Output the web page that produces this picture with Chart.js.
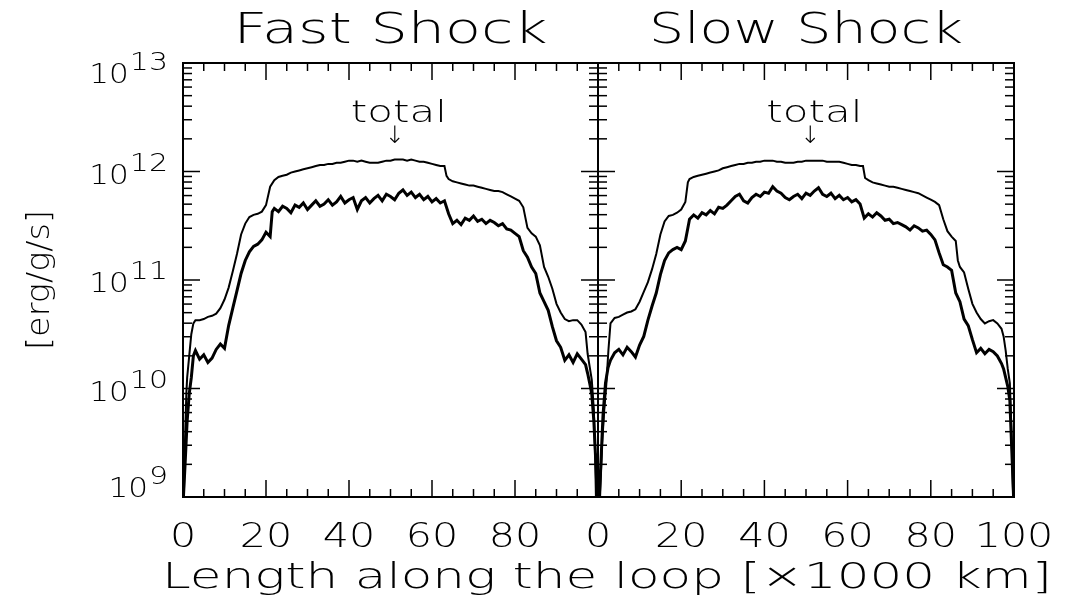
<!DOCTYPE html>
<html>
<head>
<meta charset="utf-8">
<script src="https://cdn.jsdelivr.net/npm/chart.js@4.4.1/dist/chart.umd.min.js"></script>
<style>
  body { margin: 0; background: #fff; }
  #wrap { position: relative; width: 1075px; height: 598px; }
  canvas { position: absolute; left: 0; top: 0; }
</style>
</head>
<body>
<div id="wrap">
  <canvas id="fast" width="1075" height="598"></canvas>
  <canvas id="slow" width="1075" height="598"></canvas>
</div>
<script>
// ── data (y values are log10 of erg/g/s) ──────────────────────────────────────
const X_TICKS = [0, 20, 40, 60, 80, 100];
const X_MINOR = [5, 10, 15, 25, 30, 35, 45, 50, 55, 65, 70, 75, 85, 90, 95];
const Y_DECADES = [9, 10, 11, 12, 13];
const Y_MINOR = [2, 3, 4, 5, 6, 7, 8, 9];
const FAST_XLABELS = [0, 20, 40, 60, 80];
const SLOW_XLABELS = [0, 20, 40, 60, 80, 100];

const FAST_TOTAL_X = [0.2, 0.5, 0.8, 1, 1.5, 2, 2.5,
  3, 4, 5, 6, 7, 8, 9, 10, 11, 12, 13, 14, 15, 16, 17, 18, 19, 20, 21, 22, 23, 24, 25, 26, 27, 28, 29, 30,
  31, 32, 33, 34, 35, 36, 37, 38, 39, 40, 41, 42, 43, 44, 45, 46, 47, 48, 49, 50, 51, 52, 53, 54, 55, 56,
  57, 58, 59, 60, 61, 62, 63, 63.5,
  64, 65, 66, 67, 68, 69, 70, 71, 72, 73, 74, 75, 76, 77, 78, 79, 80, 81, 82, 83, 84, 85, 86, 87, 88, 89,
  90, 91, 92, 93, 94, 95, 96, 97,
  97.5, 98, 98.5, 99, 99.3, 99.5];
const FAST_TOTAL = [9.0, 9.55, 9.95, 10.10, 10.30, 10.50, 10.60,
  10.63, 10.63, 10.64, 10.66, 10.67, 10.69, 10.74, 10.82, 10.93, 11.08, 11.24, 11.42, 11.52, 11.58, 11.60,
  11.61, 11.63, 11.69, 11.86, 11.92, 11.95, 11.96, 11.97, 11.99, 12.00, 12.01, 12.02, 12.03,
  12.04, 12.05, 12.06, 12.06, 12.07, 12.07, 12.08, 12.08, 12.09, 12.10, 12.10, 12.09, 12.10, 12.09, 12.08,
  12.08, 12.08, 12.09, 12.10, 12.10, 12.11, 12.11, 12.11, 12.10, 12.11, 12.10,
  12.09, 12.09, 12.08, 12.07, 12.06, 12.05, 12.05, 11.96,
  11.93, 11.91, 11.90, 11.89, 11.88, 11.87, 11.87, 11.86, 11.85, 11.84, 11.83, 11.82, 11.82, 11.81, 11.79,
  11.77, 11.75, 11.73, 11.67, 11.48, 11.43, 11.40, 11.32, 11.12, 11.03, 10.92,
  10.78, 10.70, 10.64, 10.62, 10.63, 10.63, 10.59, 10.52,
  10.32, 10.20, 10.08, 9.8, 9.4, 9.0];

const FAST_OTHER_X = [0.1, 0.5, 1, 1.5, 2, 2.5,
  3, 4, 5, 6, 7, 8, 9, 10, 11, 12, 13, 14, 15, 16, 17, 18, 19, 20, 21, 21.5,
  22, 23, 24, 25, 26, 27, 28, 29, 30, 31, 32, 33, 34, 35, 36, 37, 38, 39, 40, 41, 42, 43, 44, 45, 46, 47,
  48, 49, 50, 51, 52, 53, 54, 55, 56, 57, 58, 59, 60, 61, 62, 63, 64, 65, 66, 67, 68, 69, 70, 71, 72, 73,
  74, 75, 76, 77, 78, 79, 80, 81, 82, 83, 84, 85, 86, 87, 88, 89, 90, 91, 92, 93, 94, 95, 96, 97,
  97.5, 98, 98.5, 99, 99.5, 99.8];
const FAST_OTHER = [9.0, 9.3, 9.7, 9.95, 10.1, 10.3,
  10.35, 10.27, 10.31, 10.24, 10.28, 10.36, 10.41, 10.37, 10.58, 10.74, 10.90, 11.06, 11.18, 11.26, 11.31,
  11.33, 11.37, 11.44, 11.40, 11.63,
  11.66, 11.63, 11.68, 11.66, 11.62, 11.69, 11.67, 11.71, 11.65, 11.69,
  11.73, 11.68, 11.70, 11.74, 11.69, 11.72, 11.77, 11.71, 11.74, 11.76,
  11.65, 11.73, 11.76, 11.71, 11.75, 11.78, 11.73, 11.79, 11.77, 11.74,
  11.80, 11.83, 11.78, 11.81, 11.76, 11.79, 11.74, 11.77, 11.72, 11.75,
  11.71, 11.73, 11.61, 11.52, 11.55, 11.51, 11.57, 11.55, 11.59, 11.54,
  11.56, 11.52, 11.55, 11.53, 11.50, 11.52, 11.47, 11.46, 11.43, 11.40,
  11.27, 11.21, 11.12, 11.06, 10.88, 10.80, 10.72, 10.57, 10.44, 10.38,
  10.26, 10.31, 10.24, 10.32, 10.27, 10.22,
  10.14, 10.05, 9.95, 9.7, 9.3, 9.0];

const SLOW_TOTAL_X = [0.5, 1, 1.5, 2, 2.5,
  3, 4, 5, 6, 7, 8, 9, 10, 11, 12, 13, 14, 15, 16, 17, 18, 19, 20, 21, 21.6,
  22, 23, 24, 25, 26, 27, 28, 29, 30, 31, 32, 33, 34, 35, 36, 37, 38, 39, 40, 41, 42, 43, 44, 45, 46, 47,
  48, 49, 50, 51, 52, 53, 54, 55, 56, 57, 58, 59, 60, 61, 62, 63, 63.7, 64.2,
  65, 66, 67, 68, 69, 70, 71, 72, 73, 74, 75, 76, 77, 78, 79, 80, 81, 82, 83, 84, 85, 86, 86.5,
  87, 88, 89, 90, 91, 92, 93, 94, 95, 96, 97,
  97.5, 98, 98.5, 99, 99.4, 99.8];
const SLOW_TOTAL = [9.0, 9.5, 9.8, 10.04, 10.35,
  10.60, 10.65, 10.66, 10.68, 10.70, 10.71, 10.73, 10.80, 10.89, 10.98, 11.10, 11.24, 11.42, 11.54, 11.59,
  11.60, 11.62, 11.65, 11.72, 11.90,
  11.93, 11.95, 11.96, 11.97, 11.98, 11.99, 12.00, 12.01, 12.03, 12.04, 12.05, 12.06, 12.07, 12.07, 12.08,
  12.08, 12.09, 12.09, 12.10, 12.10, 12.10, 12.09, 12.09, 12.08, 12.08, 12.08,
  12.09, 12.09, 12.10, 12.10, 12.10, 12.10, 12.10, 12.09, 12.09, 12.09, 12.09, 12.08, 12.07, 12.06, 12.06,
  12.05, 12.05, 11.94,
  11.92, 11.90, 11.89, 11.88, 11.87, 11.86, 11.86, 11.85, 11.84, 11.83, 11.82, 11.81, 11.80, 11.78, 11.76,
  11.74, 11.72, 11.69, 11.56, 11.45, 11.40, 11.36, 11.18,
  11.12, 11.07, 10.92, 10.78, 10.70, 10.64, 10.60, 10.62, 10.63, 10.60, 10.55,
  10.48, 10.35, 10.18, 10.05, 9.6, 9.0];

const SLOW_OTHER_X = [0.3, 0.8, 1.2, 1.8, 2.4,
  3, 4, 5, 6, 7, 8, 9, 10, 11, 12, 13, 14, 15, 16, 17, 18, 19, 20, 21, 21.6,
  22, 23, 24, 25, 26, 27, 28, 29, 30, 31, 32, 33, 34, 35, 36, 37, 38, 39, 40, 41, 42, 43, 44, 45, 46, 47,
  48, 49, 50, 51, 52, 53, 54, 55, 56, 57, 58, 59, 60, 61, 62, 63, 64, 65, 66, 67, 68, 69, 70, 71, 72, 73,
  74, 75, 76, 77, 78, 79, 80, 81, 82, 83, 84, 85, 86, 87, 88, 89, 90, 91, 92, 93, 94, 95, 96, 97,
  97.5, 98, 98.5, 99, 99.5, 99.9];
const SLOW_OTHER = [9.0, 9.4, 9.75, 10.05, 10.19,
  10.26, 10.33, 10.36, 10.31, 10.38, 10.34, 10.29, 10.40, 10.48, 10.63, 10.76, 10.88, 11.05, 11.18, 11.25,
  11.28, 11.30, 11.28, 11.36, 11.48,
  11.56, 11.60, 11.57, 11.62, 11.60, 11.64, 11.61, 11.67, 11.66, 11.69,
  11.73, 11.77, 11.79, 11.73, 11.71, 11.76, 11.79, 11.77, 11.81, 11.80,
  11.86, 11.82, 11.80, 11.76, 11.74, 11.77, 11.79, 11.75, 11.80, 11.78,
  11.82, 11.85, 11.79, 11.77, 11.80, 11.75, 11.78, 11.74, 11.76, 11.72,
  11.74, 11.70, 11.57, 11.61, 11.58, 11.62, 11.59, 11.55, 11.56, 11.52,
  11.53, 11.51, 11.49, 11.46, 11.50, 11.48, 11.45, 11.46, 11.42, 11.37,
  11.25, 11.14, 11.12, 11.09, 10.88, 10.80, 10.64, 10.58, 10.45, 10.33,
  10.37, 10.32, 10.36, 10.34, 10.30, 10.23,
  10.18, 10.10, 10.02, 9.89, 9.4, 9.0];

// ── helpers ───────────────────────────────────────────────────────────────────
const FONT = "200 %spx 'DejaVu Sans', 'Noto Sans', sans-serif";
const font = (size) => FONT.replace("%s", size);

const toPoints = (xs, logs) => xs.map((x, i) => ({ x, y: Math.pow(10, logs[i]) }));

/** Draw text horizontally stretched (fixed factor, or to fit a target width). */
function drawText(ctx, s, x, y, size, opts = {}) {
  ctx.save();
  ctx.font = font(size);
  const w = ctx.measureText(s).width;
  const sx = opts.width ? opts.width / w : (opts.stretch || 1);
  ctx.translate(x, y);
  if (opts.rotate) ctx.rotate(opts.rotate);
  ctx.scale(sx, 1);
  ctx.textAlign = opts.align || "center";
  ctx.textBaseline = "alphabetic";
  ctx.fillText(s, 0, 0);
  ctx.restore();
  return w * sx;
}

// IDL style frame: inward ticks on all four sides, labels drawn by hand
const idlAxes = {
  id: "idlAxes",
  afterDraw(chart, args, o) {
    const { ctx, chartArea: a, scales: { x, y } } = chart;
    ctx.save();
    ctx.strokeStyle = "#000";
    ctx.fillStyle = "#000";
    const seg = (x1, y1, x2, y2) => { ctx.beginPath(); ctx.moveTo(x1, y1); ctx.lineTo(x2, y2); ctx.stroke(); };

    ctx.lineWidth = 1.5;
    X_MINOR.forEach((v) => {
      const p = x.getPixelForValue(v);
      seg(p, a.bottom, p, a.bottom - 8);
      seg(p, a.top, p, a.top + 8);
    });
    X_TICKS.forEach((v) => {
      const p = x.getPixelForValue(v);
      seg(p, a.bottom, p, a.bottom - 17);
      seg(p, a.top, p, a.top + 17);
    });
    Y_DECADES.forEach((e, i) => {
      const p = y.getPixelForValue(Math.pow(10, e));
      seg(a.left, p, a.left + 17, p);
      seg(a.right, p, a.right - 17, p);
      if (i === Y_DECADES.length - 1) return;
      Y_MINOR.forEach((m) => {
        const q = y.getPixelForValue(m * Math.pow(10, e));
        seg(a.left, q, a.left + 9, q);
        seg(a.right, q, a.right - 9, q);
      });
    });
    ctx.lineWidth = 2;
    ctx.strokeRect(a.left, a.top, a.right - a.left, a.bottom - a.top);

    // panel title + x tick labels
    drawText(ctx, o.title, (a.left + a.right) / 2, 43, 42, { width: 314 });
    o.xLabels.forEach((v) => drawText(ctx, String(v), x.getPixelForValue(v), 547, 33, { stretch: 1.25 }));

    // "total" marker
    drawText(ctx, "total", x.getPixelForValue(52), 122, 31, { width: 96 });
    drawText(ctx, "↓", x.getPixelForValue(51), 143, 24);

    if (o.outer) {
      Y_DECADES.forEach((e, i) => {
        const p = y.getPixelForValue(Math.pow(10, e));
        let base = p + 12;
        if (i === 0) base = p;                         // 10^9 sits above the axis
        if (i === Y_DECADES.length - 1) base = p + 20; // 10^13 sits below the top
        const right = a.left - 15;
        const ew = drawText(ctx, String(e), right, base - 13, 25, { align: "right", stretch: 1.2 });
        drawText(ctx, "10", right - ew - 1, base, 27, { align: "right", stretch: 1.15 });
      });
      drawText(ctx, "[erg/g/s]", 49, 280, 32, { rotate: -Math.PI / 2, width: 140 });
      drawText(ctx, "Length along the loop [×1000 km]", 607, 588, 36, { width: 890 });
    }
    ctx.restore();
  },
};

function lineSet(data, width) {
  return { data, borderColor: "#000", borderWidth: width, pointRadius: 0, fill: false, tension: 0 };
}

function makePanel(id, padL, padR, total, other, opts) {
  return new Chart(document.getElementById(id), {
    type: "line",
    data: { datasets: [lineSet(total, 2), lineSet(other, 3)] },
    options: {
      responsive: false,
      animation: false,
      layout: { padding: { left: padL, right: padR, top: 63, bottom: 101 } },
      plugins: { legend: { display: false }, tooltip: { enabled: false }, idlAxes: opts },
      scales: {
        x: { type: "linear", min: 0, max: 100, display: false },
        y: { type: "logarithmic", min: 1e9, max: 1e13, display: false },
      },
    },
    plugins: [idlAxes],
  });
}

makePanel("fast", 183, 1075 - 598, toPoints(FAST_TOTAL_X, FAST_TOTAL), toPoints(FAST_OTHER_X, FAST_OTHER),
  { title: "Fast Shock", xLabels: FAST_XLABELS, outer: true });
makePanel("slow", 598, 1075 - 1014, toPoints(SLOW_TOTAL_X, SLOW_TOTAL), toPoints(SLOW_OTHER_X, SLOW_OTHER),
  { title: "Slow Shock", xLabels: SLOW_XLABELS, outer: false });
</script>
</body>
</html>
